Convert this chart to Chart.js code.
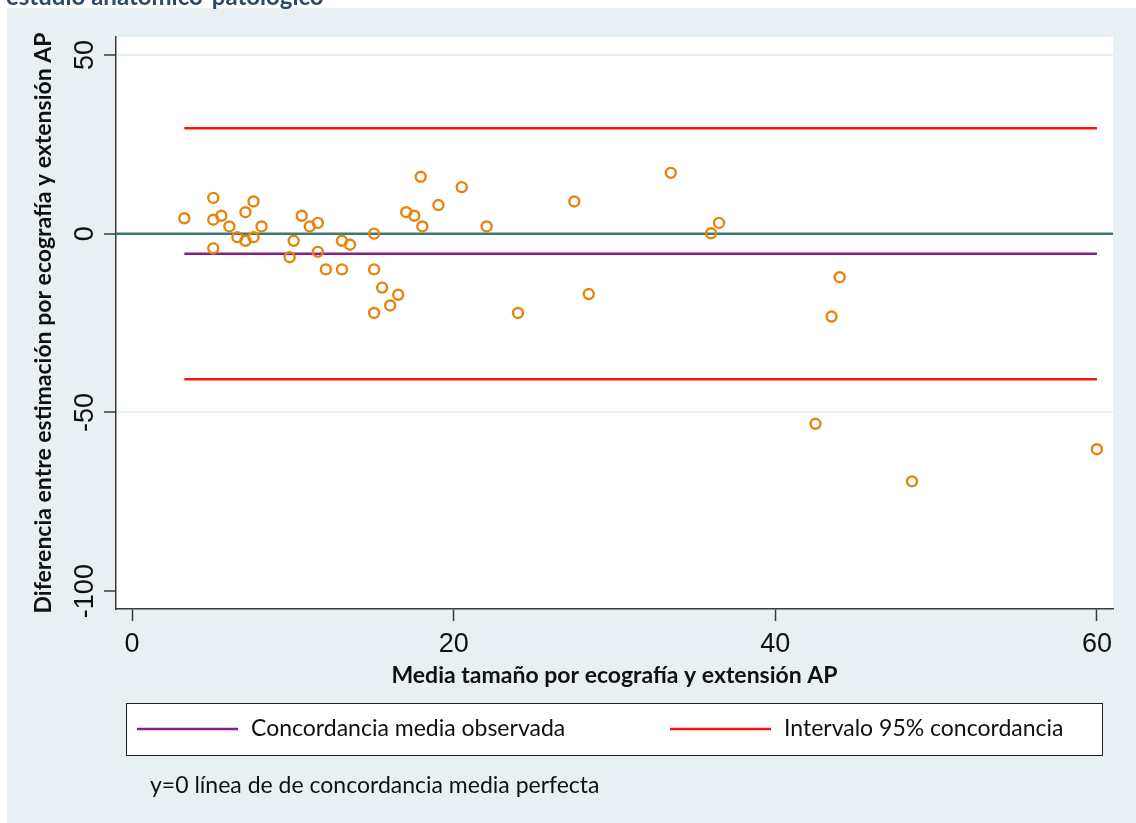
<!DOCTYPE html>
<html>
<head>
<meta charset="utf-8">
<script src="https://cdn.jsdelivr.net/npm/chart.js@4.4.0/dist/chart.umd.min.js"></script>
<style>
  html, body { margin: 0; padding: 0; background: #ffffff; }
  #wrap { width: 1136px; height: 823px; position: relative; }
</style>
</head>
<body>
<div id="wrap"><canvas id="chart" width="1136" height="823"></canvas></div>
<script>
// Mean of the two size measurements (ultrasound and pathology extent)
const meanSize = [
  3.25, 5.05, 5.05, 5.55, 5.05, 6.05, 6.55, 7.05, 7.05, 7.55, 7.55, 8.05,
  9.8, 10.05, 10.55, 11.05, 11.55, 11.55, 12.05, 13.05, 13.55, 13.05,
  15.05, 15.05, 15.55, 15.05, 16.05, 16.55, 17.05, 17.55, 18.05, 17.95, 19.05,
  20.5, 22.05, 24.0, 27.5, 28.4, 33.5, 36.0, 36.5,
  44.0, 43.5, 42.5, 48.5, 60.0
];
// Difference between the two measurements
const sizeDiff = [
  4.3, 10, 3.9, 5, -4.1, 2, -1, 6, -2, 9, -1, 2,
  -6.6, -2, 5, 2, 3, -5.1, -10, -2, -3.1, -10,
  0, -10, -15.1, -22.2, -20.1, -17.1, 6, 5, 2, 15.9, 8,
  13, 2, -22.2, 9, -16.9, 17, 0.1, 3,
  -12.2, -23.2, -53.2, -69.3, -60.3
];

const meanDifference = -5.6;          // observed mean agreement
const agreementLimits = [29.5, -40.7]; // 95% limits of agreement

const xTicks = [0, 20, 40, 60];
const yTicks = [-100, -50, 0, 50];
const xRange = [-1, 61];
const yRange = [-105, 55];

const legendLabels = ['Concordancia media observada', 'Intervalo 95% concordancia'];
const footnote = 'y=0 línea de de concordancia media perfecta';
const headerText = 'estudio anatómico-patológico';
const xTitle = 'Media tamaño por ecografía y extensión AP';
const yTitle = 'Diferencia entre estimación por ecografía y extensión AP';

const COLORS = {
  marker: '#e5850f',
  zero: '#3b786f',
  mean: '#8a1c8c',
  limits: '#ff1010',
  axis: '#3a3a3a',
  panel: '#e8f0f3',
  text: '#111111'
};

const points = meanSize.map((x, i) => ({ x: x, y: sizeDiff[i] }));
const xMin = Math.min(...meanSize);
const xMax = Math.max(...meanSize);
const hLine = (y, x0, x1) => [{ x: x0, y: y }, { x: x1, y: y }];

const backdrop = {
  id: 'backdrop',
  beforeDraw(chart) {
    const { ctx, width, height, chartArea } = chart;
    ctx.save();
    ctx.fillStyle = '#ffffff';
    ctx.fillRect(0, 0, width, height);
    ctx.fillStyle = COLORS.panel;
    ctx.fillRect(7, 8, width - 7, height - 8);
    ctx.fillStyle = '#ffffff';
    ctx.fillRect(chartArea.left, chartArea.top, chartArea.right - chartArea.left, chartArea.bottom - chartArea.top);
    // header text running off the top edge
    ctx.fillStyle = '#2d4a68';
    ctx.font = 'bold 24px Lato';
    ctx.textBaseline = 'alphabetic';
    ctx.textAlign = 'left';
    ctx.fillText(headerText, 6, 5);
    ctx.restore();
  }
};

const extras = {
  id: 'extras',
  afterDraw(chart) {
    const { ctx } = chart;
    const ys = chart.scales.y;
    ctx.save();
    // rotated y tick labels
    ctx.fillStyle = COLORS.text;
    ctx.font = '27px "Liberation Sans"';
    ctx.textAlign = 'center';
    ctx.textBaseline = 'middle';
    ys.ticks.forEach(t => {
      const py = ys.getPixelForValue(t.value);
      ctx.save();
      ctx.translate(86, py);
      ctx.rotate(-Math.PI / 2);
      ctx.fillText(String(t.value), 0, 0);
      ctx.restore();
    });

    // legend box
    ctx.fillStyle = '#ffffff';
    ctx.fillRect(126, 703, 976, 52);
    ctx.strokeStyle = '#222222';
    ctx.lineWidth = 1;
    ctx.strokeRect(126.5, 703.5, 976, 52);
    const items = [
      { color: COLORS.mean, label: legendLabels[0], x: 137 },
      { color: COLORS.limits, label: legendLabels[1], x: 670 }
    ];
    ctx.font = '23px Lato';
    ctx.textAlign = 'left';
    ctx.textBaseline = 'middle';
    items.forEach(it => {
      ctx.strokeStyle = it.color;
      ctx.lineWidth = 2.5;
      ctx.beginPath();
      ctx.moveTo(it.x, 729);
      ctx.lineTo(it.x + 101, 729);
      ctx.stroke();
      ctx.fillStyle = COLORS.text;
      ctx.fillText(it.label, it.x + 114, 729);
    });

    ctx.fillText(footnote, 150, 786);
    ctx.restore();
  }
};

new Chart(document.getElementById('chart'), {
  type: 'scatter',
  data: {
    datasets: [
      {
        label: 'obs',
        data: points,
        order: 0,
        pointStyle: 'circle',
        pointRadius: 5,
        pointBorderWidth: 2.4,
        borderColor: COLORS.marker,
        backgroundColor: 'rgba(0,0,0,0)'
      },
      {
        type: 'line',
        label: 'y=0',
        data: hLine(0, xRange[0], xRange[1]),
        order: 1,
        borderColor: COLORS.zero,
        borderWidth: 2.5,
        pointRadius: 0
      },
      {
        type: 'line',
        label: legendLabels[0],
        data: hLine(meanDifference, xMin, xMax),
        order: 1,
        borderColor: COLORS.mean,
        borderWidth: 2.5,
        pointRadius: 0
      },
      {
        type: 'line',
        label: legendLabels[1],
        data: hLine(agreementLimits[0], xMin, xMax),
        order: 1,
        borderColor: COLORS.limits,
        borderWidth: 2.5,
        pointRadius: 0
      },
      {
        type: 'line',
        label: legendLabels[1] + ' (inf)',
        data: hLine(agreementLimits[1], xMin, xMax),
        order: 1,
        borderColor: COLORS.limits,
        borderWidth: 2.5,
        pointRadius: 0
      }
    ]
  },
  options: {
    responsive: false,
    devicePixelRatio: 1,
    animation: false,
    layout: { padding: { top: 37, right: 23, left: 0, bottom: 0 } },
    plugins: {
      legend: { display: false },
      tooltip: { enabled: false }
    },
    scales: {
      x: {
        type: 'linear',
        min: xRange[0],
        max: xRange[1],
        afterBuildTicks: s => { s.ticks = xTicks.map(v => ({ value: v })); },
        afterFit: s => { s.height = 214; },
        border: { display: true, color: COLORS.axis, width: 1.5 },
        grid: {
          drawOnChartArea: false,
          drawTicks: true,
          tickLength: 12,
          tickColor: COLORS.axis,
          tickWidth: 1.5
        },
        ticks: {
          font: { family: 'Liberation Sans', size: 27 },
          color: COLORS.text,
          padding: 7,
          maxRotation: 0
        },
        title: {
          display: true,
          text: xTitle,
          color: COLORS.text,
          font: { family: 'Lato', weight: 'bold', size: 23 },
          padding: { top: 0, bottom: 134 }
        }
      },
      y: {
        type: 'linear',
        min: yRange[0],
        max: yRange[1],
        afterBuildTicks: s => { s.ticks = yTicks.map(v => ({ value: v })); },
        afterFit: s => { s.width = 116; },
        border: { display: true, color: COLORS.axis, width: 1.5 },
        grid: {
          drawTicks: true,
          tickLength: 12,
          tickColor: COLORS.axis,
          tickWidth: 1.5,
          lineWidth: 2,
          color: c => (c.tick && c.tick.value > yTicks[0]) ? COLORS.panel : 'rgba(0,0,0,0)'
        },
        ticks: { display: false },
        title: {
          display: true,
          text: yTitle,
          color: COLORS.text,
          font: { family: 'Lato', weight: 'bold', size: 23 },
          padding: { top: 30, bottom: 0 }
        }
      }
    }
  },
  plugins: [backdrop, extras]
});
</script>
</body>
</html>
